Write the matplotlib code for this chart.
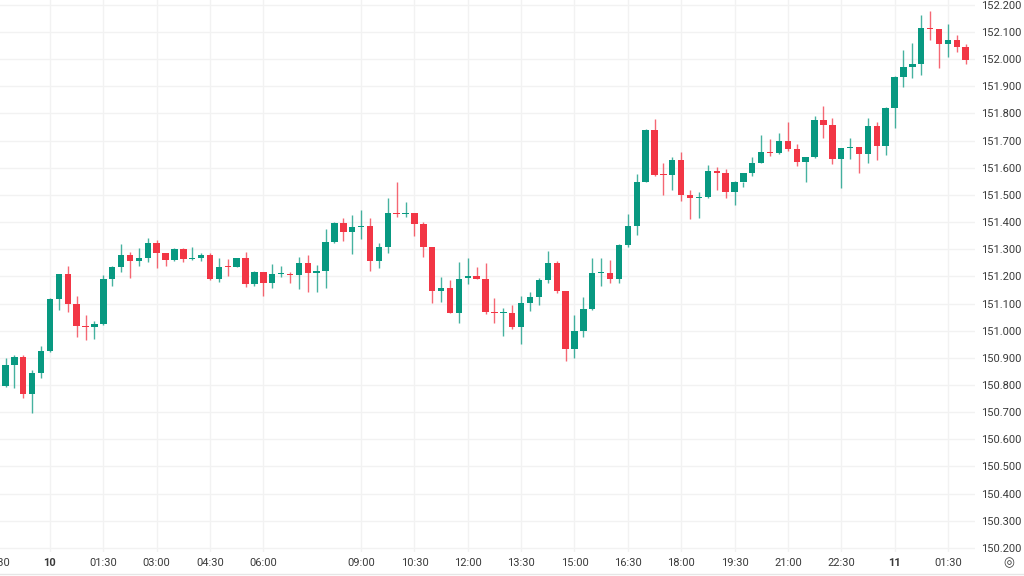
import matplotlib
matplotlib.use("Agg")
import matplotlib.pyplot as plt
import matplotlib.transforms as mtransforms
import numpy as np

# 15 minute candles, 9th 22:45 -> 11th 02:00
opens = [150.797, 150.872, 150.903, 150.767, 150.846, 150.927, 151.117, 151.208, 151.098, 151.017,
         151.014, 151.026, 151.190, 151.233, 151.278, 151.257, 151.269, 151.322, 151.286, 151.260,
         151.300, 151.265, 151.269, 151.278, 151.190, 151.236, 151.234, 151.267, 151.172, 151.216,
         151.177, 151.209, 151.209, 151.205, 151.251, 151.212, 151.219, 151.328, 151.396, 151.363,
         151.383, 151.387, 151.255, 151.308, 151.435, 151.429, 151.434, 151.392, 151.308, 151.148,
         151.158, 151.067, 151.193, 151.202, 151.191, 151.070, 151.067, 151.065, 151.015, 151.101,
         151.123, 151.187, 151.251, 151.148, 150.932, 151.000, 151.080, 151.214, 151.214, 151.190,
         151.317, 151.386, 151.548, 151.740, 151.578, 151.574, 151.627, 151.500, 151.488, 151.493,
         151.590, 151.582, 151.512, 151.547, 151.582, 151.619, 151.659, 151.656, 151.697, 151.670,
         151.623, 151.638, 151.775, 151.758, 151.632, 151.674, 151.676, 151.650, 151.754, 151.681,
         151.820, 151.936, 151.973, 151.983, 152.115, 152.113, 152.055, 152.069, 152.046]
highs = [150.899, 150.911, 150.910, 150.856, 150.942, 151.120, 151.208, 151.240, 151.128, 151.057,
         151.037, 151.205, 151.240, 151.319, 151.289, 151.306, 151.341, 151.335, 151.286, 151.304,
         151.304, 151.309, 151.288, 151.286, 151.267, 151.263, 151.267, 151.291, 151.221, 151.216,
         151.246, 151.240, 151.218, 151.273, 151.279, 151.242, 151.375, 151.402, 151.414, 151.427,
         151.445, 151.414, 151.322, 151.488, 151.546, 151.473, 151.434, 151.402, 151.308, 151.197,
         151.187, 151.252, 151.267, 151.236, 151.249, 151.120, 151.083, 151.095, 151.129, 151.142,
         151.193, 151.294, 151.257, 151.148, 151.058, 151.123, 151.267, 151.267, 151.261, 151.320,
         151.429, 151.578, 151.742, 151.779, 151.619, 151.641, 151.660, 151.519, 151.512, 151.611,
         151.604, 151.596, 151.552, 151.547, 151.641, 151.721, 151.707, 151.728, 151.768, 151.687,
         151.641, 151.789, 151.829, 151.785, 151.674, 151.711, 151.676, 151.783, 151.770, 151.823,
         151.939, 152.034, 152.061, 152.163, 152.178, 152.113, 152.129, 152.090, 152.055]
lows = [150.792, 150.788, 150.752, 150.696, 150.827, 150.921, 151.077, 151.070, 150.976, 150.966,
        150.971, 151.022, 151.166, 151.216, 151.193, 151.240, 151.252, 151.230, 151.240, 151.257,
        151.252, 151.262, 151.257, 151.187, 151.181, 151.203, 151.234, 151.160, 151.165, 151.128,
        151.157, 151.197, 151.175, 151.153, 151.144, 151.144, 151.157, 151.324, 151.332, 151.282,
        151.337, 151.221, 151.230, 151.288, 151.418, 151.418, 151.347, 151.273, 151.101, 151.104,
        151.067, 151.030, 151.171, 151.191, 151.062, 151.030, 150.981, 151.006, 150.950, 151.073,
        151.095, 151.175, 151.140, 150.890, 150.899, 150.976, 151.077, 151.165, 151.177, 151.175,
        151.310, 151.353, 151.548, 151.570, 151.500, 151.519, 151.479, 151.411, 151.414, 151.490,
        151.519, 151.490, 151.463, 151.531, 151.571, 151.619, 151.645, 151.651, 151.662, 151.607,
        151.546, 151.635, 151.711, 151.614, 151.525, 151.632, 151.582, 151.617, 151.627, 151.646,
        151.746, 151.899, 151.932, 151.941, 152.071, 151.969, 152.007, 152.028, 151.983]
closes = [150.872, 150.903, 150.767, 150.844, 150.927, 151.117, 151.208, 151.098, 151.019, 151.014,
          151.026, 151.190, 151.233, 151.278, 151.257, 151.269, 151.322, 151.286, 151.260, 151.300,
          151.265, 151.268, 151.278, 151.190, 151.234, 151.234, 151.267, 151.172, 151.218, 151.177,
          151.209, 151.212, 151.205, 151.251, 151.212, 151.219, 151.328, 151.396, 151.363, 151.383,
          151.387, 151.255, 151.308, 151.435, 151.430, 151.434, 151.392, 151.308, 151.148, 151.158,
          151.067, 151.192, 151.202, 151.191, 151.070, 151.066, 151.070, 151.015, 151.101, 151.123,
          151.187, 151.251, 151.148, 150.932, 151.000, 151.080, 151.214, 151.218, 151.190, 151.317,
          151.386, 151.548, 151.740, 151.574, 151.574, 151.627, 151.500, 151.488, 151.493, 151.590,
          151.582, 151.512, 151.547, 151.582, 151.619, 151.658, 151.654, 151.697, 151.670, 151.623,
          151.638, 151.775, 151.758, 151.632, 151.674, 151.678, 151.650, 151.754, 151.681, 151.820,
          151.936, 151.973, 151.983, 152.116, 152.112, 152.055, 152.069, 152.046, 151.997]

# time axis labels (bar index -> text)
tick_idx = [-1, 5, 11, 17, 23, 29, 40, 46, 52, 58, 64, 70, 76, 82, 88, 94, 100, 106]
tick_txt = ["22:30", "10", "01:30", "03:00", "04:30", "06:00", "09:00", "10:30", "12:00",
            "13:30", "15:00", "16:30", "18:00", "19:30", "21:00", "22:30", "11", "01:30"]
price_ticks = np.round(np.arange(150.2, 152.2001, 0.1), 1)

UP = "#089981"
DOWN = "#F23645"
GRID = "#F2F2F2"
TXT = "#3a3a3a"

plt.rcParams["font.family"] = ["Roboto", "DejaVu Sans"]

o = np.array(opens)
h = np.array(highs)
l = np.array(lows)
c = np.array(closes)
x = np.arange(len(o))
cols = [UP if c[i] >= o[i] else DOWN for i in range(len(o))]

fig = plt.figure(figsize=(10.24, 5.76), dpi=100)
ax = fig.add_axes([0, 24 / 576, 975 / 1024, 552 / 576])

for t in tick_idx:
    ax.axvline(t, color=GRID, lw=1, zorder=0)
for p in price_ticks:
    ax.axhline(p, color=GRID, lw=1, zorder=0)

# wicks a bit lighter than bodies, like the original
ax.vlines(x, l, h, colors=cols, lw=1.0, alpha=0.75, zorder=2)
body_lo = np.minimum(o, c)
body_h = np.maximum(np.abs(c - o), 0.0035)
ax.bar(x, body_h, bottom=body_lo, width=0.72, color=cols, linewidth=0, zorder=3)

ax.set_xlim(-0.62, 109.05)
ax.set_ylim(150.185, 152.218)

ax.set_xticks([])
ax.yaxis.tick_right()
ax.set_yticks(price_ticks)
ax.set_yticklabels(["%.3f" % p for p in price_ticks], fontsize=8, color=TXT)
ax.tick_params(axis="y", length=0, pad=4)
for s in ax.spines.values():
    s.set_visible(False)

trans = mtransforms.blended_transform_factory(ax.transData, fig.transFigure)
for t, s in zip(tick_idx, tick_txt):
    bold = s in ("10", "11")
    ax.text(t, 1 - 563 / 576, s, transform=trans, ha="center", va="center", fontsize=8,
            color=TXT, fontweight="bold" if bold else "normal", clip_on=False)

fig.text(1009 / 1024, 1 - 563 / 576, "◎", ha="center", va="center", fontsize=9,
         color=TXT, family=["DejaVu Sans"])
fig.add_artist(plt.Line2D([0, 1], [1 - 574 / 576] * 2, color="#E6E6E6", lw=1))

fig.savefig("out.png", dpi=100, facecolor="white")
